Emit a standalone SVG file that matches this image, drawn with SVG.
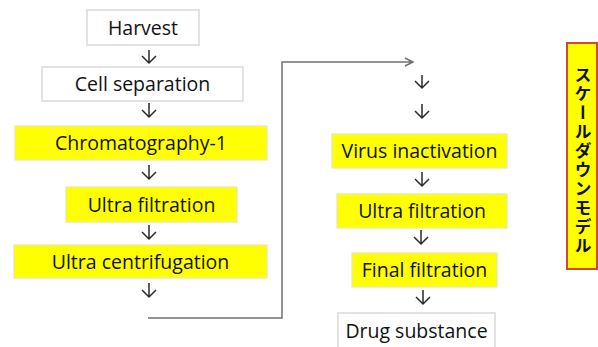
<svg xmlns="http://www.w3.org/2000/svg" width="598" height="347" viewBox="0 0 598 347">
<defs>
<style>
.w{fill:#fff;stroke:#d9d9d9;stroke-width:1.5}
.y{fill:#ffff00;stroke:#e6e6b0;stroke-width:1.2}
.t{font-family:"Open Sans","Liberation Sans",sans-serif;font-size:19.5px;fill:#111;text-anchor:middle}
.a{fill:none;stroke:#2a2a2a;stroke-width:1.5}
.c{fill:none;stroke:#707070;stroke-width:1.5}
</style>
</defs>
<rect width="598" height="347" fill="#fff"/>
<g id="harvest"><rect class="w" x="87" y="10" width="112" height="35"/><text class="t" x="143" y="35">Harvest</text></g>
<g id="cell-separation"><rect class="w" x="42" y="67" width="201" height="34"/><text class="t" x="142.5" y="91">Cell separation</text></g>
<g id="chromatography"><rect class="y" x="15" y="126" width="252" height="34"/><text class="t" x="141" y="150">Chromatography-1</text></g>
<g id="ultra-filtration-1"><rect class="y" x="66" y="187" width="171" height="35"/><text class="t" x="151.5" y="212">Ultra filtration</text></g>
<g id="ultra-centrifugation"><rect class="y" x="14" y="245" width="253" height="33"/><text class="t" x="140.5" y="269">Ultra centrifugation</text></g>
<g id="virus-inactivation"><rect class="y" x="332" y="134" width="175" height="34"/><text class="t" x="419.5" y="158">Virus inactivation</text></g>
<g id="ultra-filtration-2"><rect class="y" x="337" y="194" width="170" height="34"/><text class="t" x="422" y="218">Ultra filtration</text></g>
<g id="final-filtration"><rect class="y" x="352" y="253" width="145" height="34"/><text class="t" x="424.5" y="277">Final filtration</text></g>
<g id="drug-substance"><rect class="w" x="338" y="313" width="157" height="36"/><text class="t" x="416.5" y="338">Drug substance</text></g>
<g id="scale-down-model"><rect x="567" y="43" width="30" height="226" fill="#ffff00" stroke="#d04a2a" stroke-width="2"/><text x="583" y="66" font-family="'Noto Sans CJK JP',sans-serif" font-size="17" font-weight="bold" fill="#111" writing-mode="vertical-rl" letter-spacing="2">スケールダウンモデル</text></g>
<g id="connectors">
<path class="a" d="M149 50V63M142 56l7 7 7-7"/>
<path class="a" d="M149 103V117M142 110l7 7 7-7"/>
<path class="a" d="M149 165V179M142 172l7 7 7-7"/>
<path class="a" d="M149 225V239M142 232l7 7 7-7"/>
<path class="a" d="M149 283V297M142 290l7 7 7-7"/>
<path class="c" d="M148 318H282V62H412M405 58l8 4-8 4"/>
<path class="a" d="M422 75V88M415 81l7 7 7-7"/>
<path class="a" d="M422 104V118M415 111l7 7 7-7"/>
<path class="a" d="M422 172V186M415 179l7 7 7-7"/>
<path class="a" d="M421 230V244M414 237l7 7 7-7"/>
<path class="a" d="M423 290V304M416 297l7 7 7-7"/>
</g>
</svg>
